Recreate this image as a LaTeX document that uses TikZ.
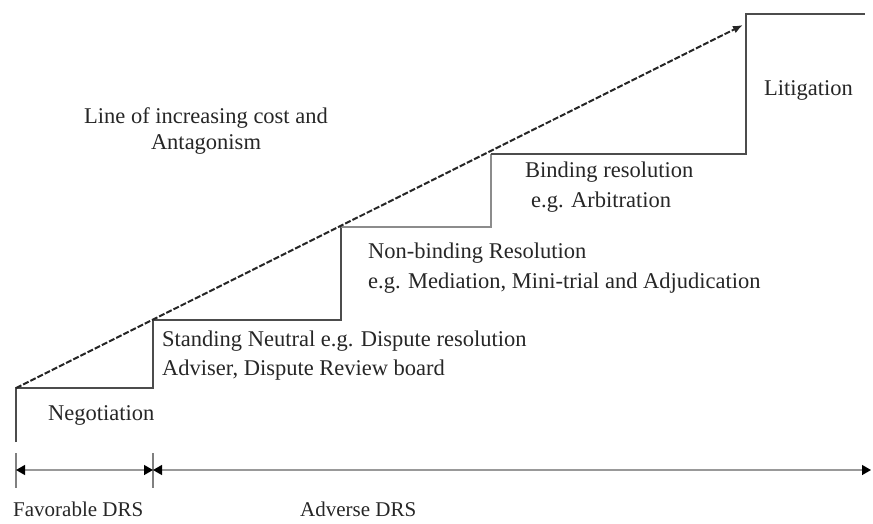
\documentclass[tikz,border=0pt]{standalone}
\usepackage{fontspec}
\setmainfont{Liberation Serif}
\usetikzlibrary{arrows.meta}
\begin{document}
\begin{tikzpicture}[x=1pt,y=-1pt,
  stair/.style={draw=black!70,line width=1.8pt},
  stairlight/.style={draw=black!45,line width=1.8pt},
  costline/.style={draw=black!85,line width=2pt,dash pattern=on 6pt off 2pt,-{Latex[length=10pt,width=8pt]}},
  dimline/.style={draw=black!40,line width=1.3pt,{Triangle[length=9pt,width=10pt,black]}-{Triangle[length=9pt,width=10pt,black]}},
  tick/.style={draw=black!50,line width=1.6pt},
  lbl/.style={font=\fontsize{22.5}{26}\selectfont,text=black!85,inner sep=0pt,anchor=west,align=left},
  smalllbl/.style={lbl,font=\fontsize{21}{24}\selectfont}]
\useasboundingbox (0,0) rectangle (873,523);
% stair corners
\coordinate (s0) at (16,442);
\coordinate (c1) at (16,388);
\coordinate (c2) at (153,388);
\coordinate (c3) at (153,320);
\coordinate (c4) at (341,320);
\coordinate (c5) at (341,227);
\coordinate (c6) at (491,227);
\coordinate (c7) at (491,154);
\coordinate (c8) at (746,154);
\coordinate (c9) at (746,14);
\coordinate (c10) at (865,14);
\coordinate (tip) at (743,25);
\draw[stair] (s0) -- (c1) -- (c2) -- (c3) -- (c4) -- (c5);
\draw[stairlight] (c5) -- (c6) -- (c7);
\draw[stair] (c7) -- (c8) -- (c9) -- (c10);
\draw[costline] (c1) -- (tip);
% dimension
\coordinate (t0a) at (16,453); \coordinate (t0b) at (16,488);
\coordinate (t1a) at (153,453); \coordinate (t1b) at (153,488);
\coordinate (d0) at (16,470); \coordinate (d1) at (153,470); \coordinate (d2) at (871,470);
\draw[tick] (t0a) -- (t0b);
\draw[tick] (t1a) -- (t1b);
\draw[dimline] (d0) -- (d1);
\draw[dimline] (d1) -- (d2);
% labels
\node[lbl,anchor=center,align=center] (line) at (206,131) {Line of increasing cost and\\Antagonism};
\node[lbl] (lit) at (764,90) {Litigation};
\node[lbl] (bind) at (525,172) {Binding resolution};
\node[lbl] (arb) at (531,202) {e.g. Arbitration};
\node[lbl] (nonb) at (368,253) {Non-binding Resolution};
\node[lbl] (med) at (368,283) {e.g. Mediation, Mini-trial and Adjudication};
\node[lbl] (stand) at (162,341) {Standing Neutral e.g. Dispute resolution};
\node[lbl] (adv) at (162,370) {Adviser, Dispute Review board};
\node[lbl] (neg) at (48,415) {Negotiation};
\node[smalllbl] (fav) at (13,509) {Favorable DRS};
\node[smalllbl] (adr) at (300,509) {Adverse DRS};
\end{tikzpicture}
\end{document}
